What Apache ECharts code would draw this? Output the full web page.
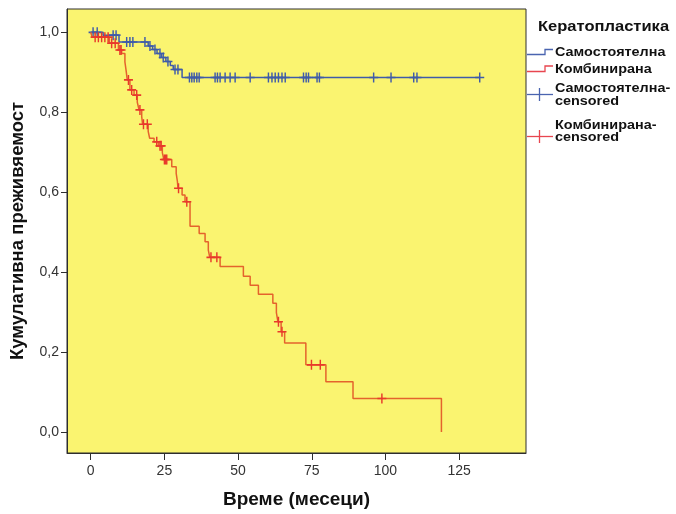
<!DOCTYPE html>
<html>
<head>
<meta charset="utf-8">
<script src="https://cdn.jsdelivr.net/npm/echarts@6/dist/echarts.min.js"></script>
<style>html,body{margin:0;padding:0;background:#fff;}#c{width:676px;height:514px;}</style>
</head>
<body>
<div id="c"></div>
<script>
// ---- data ----
const xTicks = [0, 25, 50, 75, 100, 125];
const yTicks = [0, 0.2, 0.4, 0.6, 0.8, 1.0];

// Самостоятелна (step events)
const blueTimes = [0, 4.2, 9.6, 19.5, 21, 22.5, 24, 25.5, 27, 28, 31, 132];
const blueSurv  = [1.0, 0.993, 0.976, 0.966, 0.957, 0.947, 0.937, 0.927, 0.917, 0.907, 0.887, 0.887];
const blueCensored = [0.8, 2.2, 7.6, 8.6, 12.2, 13.3, 14.3, 18.4, 20.1, 21.8, 23.5, 24.6, 26.2, 28.6, 29.6,
  33.5, 34.3, 35.1, 36.0, 36.8, 42.2, 43.0, 43.9, 45.6, 47.3, 49.0, 54.1, 60.3, 61.5, 62.6, 63.7, 64.9, 66.0,
  72.2, 73.1, 73.9, 76.8, 77.6, 96.0, 101.9, 109.6, 110.7, 132];

// Комбинирана (step events)
const redTimes = [0, 0.5, 6.3, 9.4, 10.5, 11.6, 12.0, 12.4, 13.3, 14.7, 15.8, 16.4, 17.3, 17.6, 19.5, 20.0,
  21.5, 23.0, 24.3, 24.8, 27.5, 29.0, 29.4, 29.6, 31.0, 32.0, 33.7, 36.8, 38.8, 39.9, 40.4, 43.9, 51.8, 54.1,
  56.9, 61.8, 63.0, 63.5, 64.6, 65.8, 73.0, 79.8, 89.0, 119];
const redSurv = [1.0, 0.988, 0.973, 0.956, 0.947, 0.926, 0.905, 0.881, 0.856, 0.843, 0.825, 0.806, 0.789, 0.770,
  0.752, 0.735, 0.726, 0.716, 0.699, 0.682, 0.664, 0.647, 0.628, 0.610, 0.593, 0.576, 0.515, 0.497, 0.476, 0.455,
  0.437, 0.414, 0.390, 0.367, 0.345, 0.322, 0.299, 0.276, 0.251, 0.223, 0.168, 0.126, 0.084, 0.0];
const redCensored = [1.5, 2.6, 3.7, 4.8, 5.9, 7.1, 8.3, 9.9, 10.3, 12.8, 13.9, 15.6, 16.7, 17.9, 19.2, 22.4,
  23.5, 23.9, 25.0, 25.4, 25.8, 29.8, 32.6, 40.8, 42.8, 63.7, 64.9, 74.9, 77.9, 98.8];

// ---- helpers ----
function stepValue(times, surv, t) {
  let v = surv[0];
  for (let i = 0; i < times.length; i++) { if (times[i] <= t) v = surv[i]; else break; }
  return v;
}
const zip = (a, b) => a.map((v, i) => [v, b[i]]);
const cens = (ct, times, surv) => ct.map(t => [t, stepValue(times, surv, t)]);

const BLUE = '#3f5ba9', RED_LINE = '#e4632c', RED_MARK = '#e8392b';
const BLUE_LEG = '#4a64b0', RED_LEG = '#e8464f';
const PLUS = 'path://M0,42 L100,42 L100,58 L0,58 Z M42,0 L58,0 L58,100 L42,100 Z';
const FONT = 'Liberation Sans, Arial, sans-serif';

const chart = echarts.init(document.getElementById('c'), null, {renderer: 'canvas'});
const fmt = v => v.toFixed(1).replace('.', ',');

function legText(txt, x, y, size, sx) {
  return {type: 'text', x: x, y: y, scaleX: sx,
    style: {text: txt, fill: '#111', font: 'bold ' + size + 'px ' + FONT, align: 'left', verticalAlign: 'middle', lineHeight: 12.5}};
}

chart.setOption({
  animation: false,
  backgroundColor: '#ffffff',
  grid: {left: 67, right: 150, top: 9, bottom: 61, show: true, backgroundColor: '#faf470', borderColor: '#2e2e2e', borderWidth: 1},
  xAxis: {
    type: 'value', min: -8.05, max: 147.7,
    name: 'Време (месеци)', nameLocation: 'middle', nameGap: 37,
    nameTextStyle: {fontFamily: FONT, fontWeight: 'bold', fontSize: 19, color: '#111'},
    splitLine: {show: false},
    axisLine: {show: true, onZero: false, lineStyle: {color: '#2e2e2e', width: 1}},
    axisTick: {show: true, length: 7, customValues: xTicks, lineStyle: {color: '#2e2e2e'}},
    axisLabel: {customValues: xTicks, margin: 11, fontFamily: FONT, fontSize: 14, color: '#333'}
  },
  yAxis: {
    type: 'value', min: -0.0525, max: 1.0584,
    name: 'Кумулативна преживяемост', nameLocation: 'middle', nameGap: 40,
    nameTextStyle: {fontFamily: FONT, fontWeight: 'bold', fontSize: 18.5, color: '#111'},
    splitLine: {show: false},
    axisLine: {show: true, onZero: false, lineStyle: {color: '#2e2e2e', width: 1}},
    axisTick: {show: true, length: 6, customValues: yTicks, lineStyle: {color: '#2e2e2e'}},
    axisLabel: {customValues: yTicks, margin: 8, fontFamily: FONT, fontSize: 14, color: '#333', formatter: fmt}
  },
  series: [
    {type: 'line', name: 'Самостоятелна', step: 'end', showSymbol: false, data: zip(blueTimes, blueSurv),
     lineStyle: {color: BLUE, width: 1.5}, itemStyle: {color: BLUE}, z: 2},
    {type: 'scatter', name: 'Самостоятелна-censored', data: cens(blueCensored, blueTimes, blueSurv),
     symbol: PLUS, symbolSize: [9, 10], itemStyle: {color: BLUE, opacity: 1}, z: 3},
    {type: 'line', name: 'Комбинирана', step: 'end', showSymbol: false, data: zip(redTimes, redSurv),
     lineStyle: {color: RED_LINE, width: 1.5}, itemStyle: {color: RED_LINE}, z: 4},
    {type: 'scatter', name: 'Комбинирана-censored', data: cens(redCensored, redTimes, redSurv),
     symbol: PLUS, symbolSize: [9, 10], itemStyle: {color: RED_MARK, opacity: 1}, z: 5}
  ],
  graphic: [
    legText('Кератопластика', 538, 27, 14, 1.18),
    {type: 'polyline', shape: {points: [[527, 54.5], [545, 54.5], [545, 49.5], [553, 49.5]]}, style: {stroke: BLUE_LEG, lineWidth: 1.3, fill: null}},
    legText('Самостоятелна', 555, 53, 12, 1.2),
    {type: 'polyline', shape: {points: [[527, 71.5], [545, 71.5], [545, 66], [553, 66]]}, style: {stroke: RED_LEG, lineWidth: 1.3, fill: null}},
    legText('Комбинирана', 555, 70, 12, 1.2),
    {type: 'polyline', shape: {points: [[527, 94.5], [553, 94.5]]}, style: {stroke: BLUE_LEG, lineWidth: 1.3, fill: null}},
    {type: 'polyline', shape: {points: [[539.5, 88], [539.5, 101]]}, style: {stroke: BLUE_LEG, lineWidth: 1.3, fill: null}},
    legText('Самостоятелна-\ncensored', 555, 95, 12, 1.2),
    {type: 'polyline', shape: {points: [[527, 136.5], [553, 136.5]]}, style: {stroke: RED_LEG, lineWidth: 1.3, fill: null}},
    {type: 'polyline', shape: {points: [[539.5, 130], [539.5, 143]]}, style: {stroke: RED_LEG, lineWidth: 1.3, fill: null}},
    legText('Комбинирана-\ncensored', 555, 131.5, 12, 1.2)
  ]
});
</script>
</body>
</html>
